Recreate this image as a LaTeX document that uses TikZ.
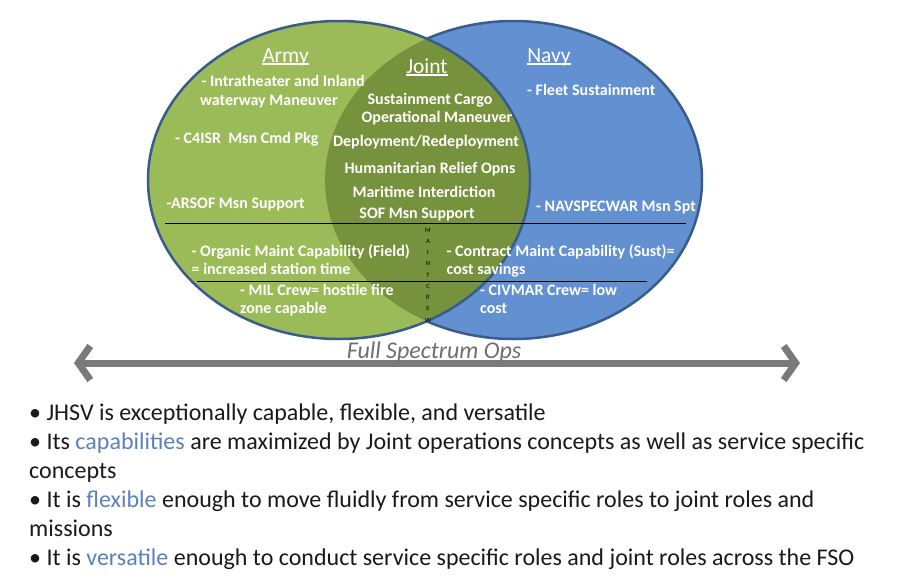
\documentclass[tikz,border=0pt]{standalone}
\usepackage{fontspec}
\setmainfont{Carlito}
\usetikzlibrary{arrows.meta}
\definecolor{armyG}{HTML}{9BBB59}
\definecolor{jointG}{HTML}{76923C}
\definecolor{navyB}{HTML}{6290D0}
\definecolor{edgeB}{HTML}{385D8A}
\definecolor{hiB}{HTML}{5B82BA}
\definecolor{arrowG}{HTML}{7A7A7A}
\definecolor{txtK}{HTML}{1A1A1A}
\tikzset{
  wtxt/.style={text=white,font=\fontsize{16}{18}\selectfont\bfseries,inner sep=0pt,anchor=base west},
  ctxt/.style={text=white,font=\fontsize{16}{18}\selectfont\bfseries,inner sep=0pt,anchor=base},
  title/.style={text=white,font=\fontsize{21.5}{24}\selectfont,inner sep=0pt,anchor=base},
  btxt/.style={text=txtK,font=\fontsize{24}{28}\selectfont,inner sep=0pt,anchor=base west},
  sepline/.style={black,line width=0.9pt}
}
\begin{document}
\begin{tikzpicture}[x=1pt,y=-1pt]
\useasboundingbox (0,0) rectangle (903,579);
\fill[white] (0,0) rectangle (903,579);
% Navy
\fill[navyB] (513.5,180) ellipse [x radius=188.5pt, y radius=159pt];
\draw[edgeB,line width=2.5pt] (513.5,180) ellipse [x radius=188.5pt, y radius=159pt];
% Army
\fill[armyG] (339,180) ellipse [x radius=191pt, y radius=159pt];
% Joint
\begin{scope}
\clip (339,180) ellipse [x radius=191pt, y radius=159pt];
\fill[jointG] (513.5,180) ellipse [x radius=188.5pt, y radius=159pt];
\end{scope}
\draw[edgeB,line width=2.5pt] (339,180) ellipse [x radius=191pt, y radius=159pt];

% separator lines
\coordinate (l1a) at (165,223); \coordinate (l1b) at (686,223);
\coordinate (l2a) at (197,281); \coordinate (l2b) at (647,281);
\draw[sepline] (l1a) -- (l1b);
\draw[sepline] (l2a) -- (l2b);

% titles
\node[title] (armyT) at (285.5,62) {Army};
\node[title] (jointT) at (427,73) {Joint};
\node[title] (navyT) at (549,62) {Navy};
\foreach \n in {armyT,jointT,navyT}{
  \draw[white,line width=1.2pt] ([yshift=-2pt]\n.base west) -- ([yshift=-2pt]\n.base east);
}

% Army texts
\node[wtxt] (a1) at (201.5,86.5) {- Intratheater and Inland};
\node[wtxt] (a2) at (200,105) {waterway Maneuver};
\node[wtxt] (a3) at (175,143) {- C4ISR\ \ Msn Cmd Pkg};
\node[wtxt] (a4) at (166.5,208) {-ARSOF Msn Support};
\node[wtxt] (a5) at (191.5,256) {- Organic Maint Capability (Field)};
\node[wtxt] (a6) at (191.5,274) {= increased station time};
\node[wtxt] (a7) at (240,295) {- MIL Crew= hostile fire};
\node[wtxt] (a8) at (240,313) {zone capable};

% Joint texts
\node[ctxt] (j1) at (430,104) {Sustainment Cargo};
\node[ctxt] (j2) at (437,122.5) {Operational Maneuver};
\node[ctxt] (j3) at (426,146.5) {Deployment/Redeployment};
\node[ctxt] (j4) at (430,173) {Humanitarian Relief Opns};
\node[ctxt] (j5) at (424,197.5) {Maritime Interdiction};
\node[ctxt] (j6) at (417,218) {SOF Msn Support};

% Navy texts
\node[wtxt] (n1) at (527,95) {- Fleet Sustainment};
\node[wtxt] (n2) at (536,211.5) {- NAVSPECWAR Msn Spt};
\node[wtxt] (n3) at (446.5,256) {- Contract Maint Capability (Sust)=};
\node[wtxt] (n4) at (446.5,274) {cost savings};
\node[wtxt] (n5) at (480,295) {- CIVMAR Crew= low};
\node[wtxt] (n6) at (480,313) {cost};

% MAINT CREW
\node[inner sep=0pt,align=center,font=\fontsize{6.5}{11.25}\selectfont,text=black] (mc) at (428,275) {M\\A\\I\\N\\T\\C\\R\\E\\W};

% Full spectrum arrow
\coordinate (fl) at (74,363);
\coordinate (fr) at (800,363);
\draw[arrowG,line width=7pt,{Straight Barb[length=12pt,width=34pt]}-{Straight Barb[length=12pt,width=34pt]}] (fl) -- (fr);
\node[text=arrowG!90!black,font=\fontsize{24}{28}\selectfont\itshape,inner sep=0pt,anchor=base] (fso) at (434,358) {Full Spectrum Ops};

% bullets
\node[btxt] (b1) at (29,420) {\textbullet\ JHSV is exceptionally capable, flexible, and versatile};
\node[btxt] (b2) at (29,449) {\textbullet\ Its \textcolor{hiB}{capabilities} are maximized by Joint operations concepts as well as service specific};
\node[btxt] (b3) at (29,478) {concepts};
\node[btxt] (b4) at (29,507) {\textbullet\ It is \textcolor{hiB}{flexible} enough to move fluidly from service specific roles to joint roles and};
\node[btxt] (b5) at (29,536) {missions};
\node[btxt] (b6) at (29,565) {\textbullet\ It is \textcolor{hiB}{versatile} enough to conduct service specific roles and joint roles across the FSO};
\end{tikzpicture}
\end{document}
